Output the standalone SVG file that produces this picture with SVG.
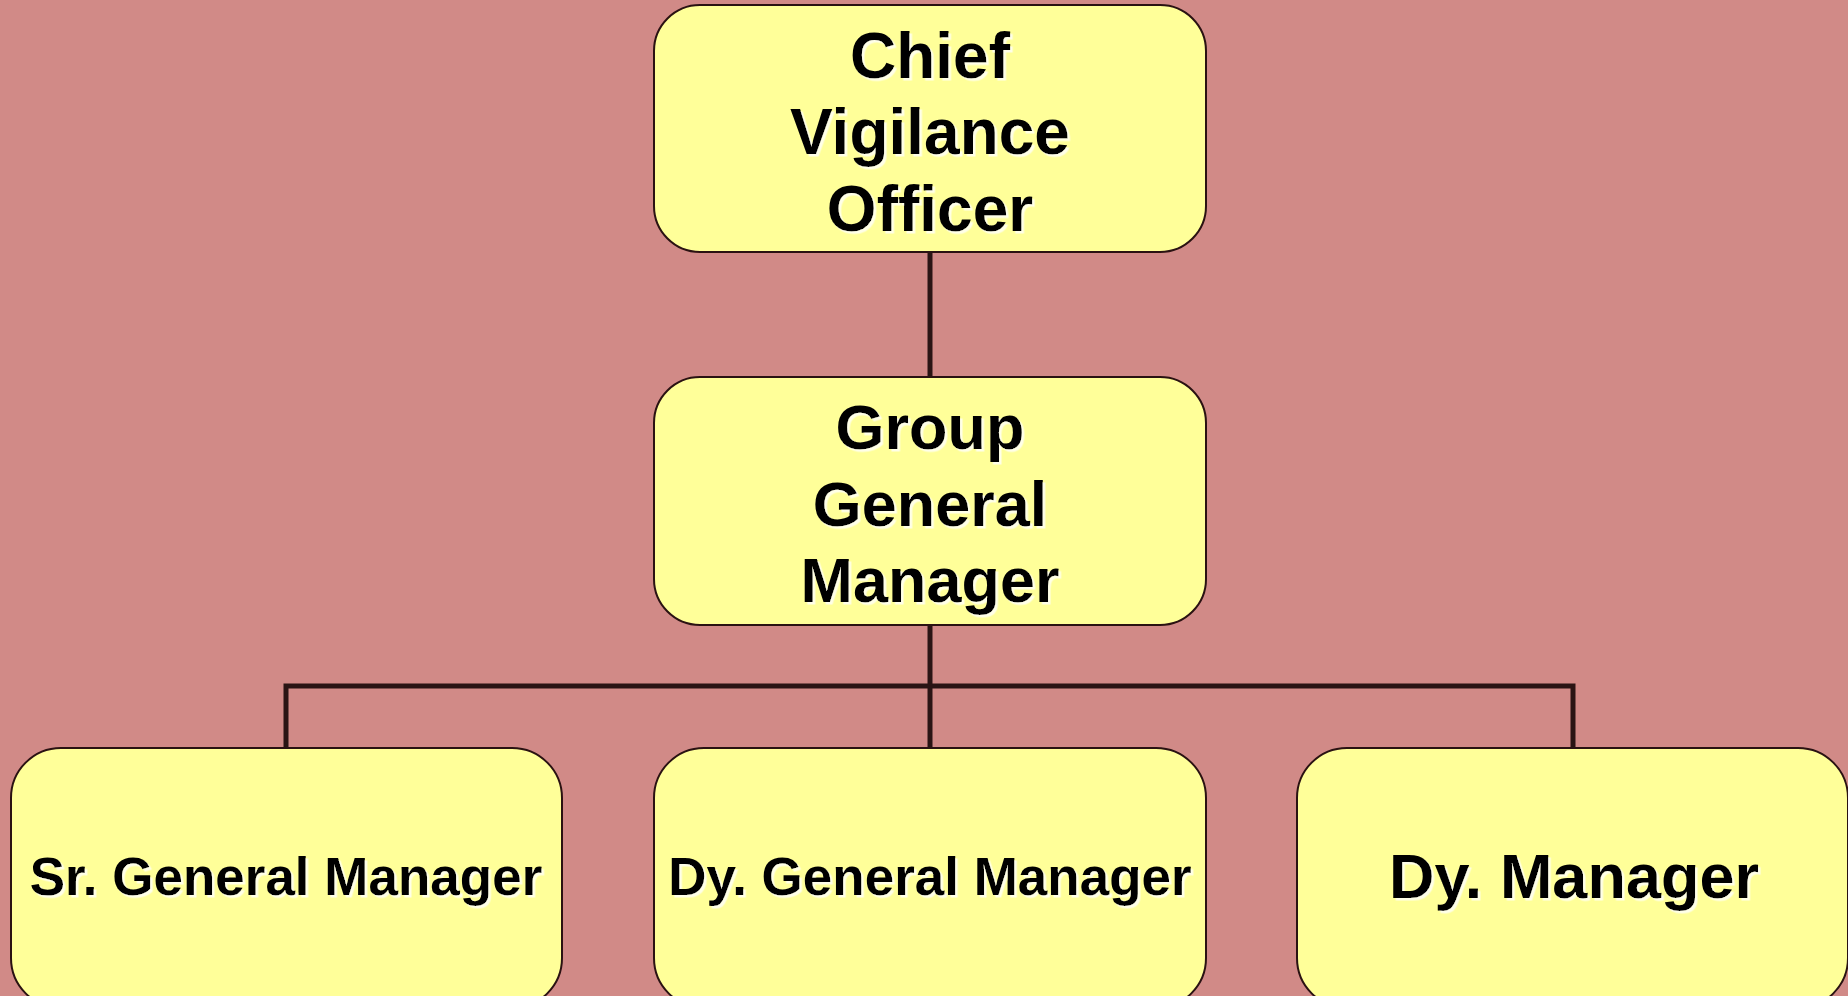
<svg xmlns="http://www.w3.org/2000/svg" width="1848" height="996" viewBox="0 0 1848 996">
<defs>
<filter id="sh" x="-5%" y="-5%" width="110%" height="120%">
<feDropShadow dx="2.5" dy="2.5" stdDeviation="0.4" flood-color="#FFFFE8" flood-opacity="1"/>
</filter>
<style>
.box{fill:#FFFF99;stroke:#2A1212;stroke-width:2}
.t{font-family:"Liberation Sans",Arial,sans-serif;font-weight:bold;fill:#000;text-anchor:middle;filter:url(#sh)}
.c{stroke:#2A1414;stroke-width:5;fill:none}
</style>
</defs>
<rect width="1848" height="996" fill="#D18A87"/>
<g id="connectors">
<line class="c" x1="930" y1="252" x2="930" y2="377"/>
<line class="c" x1="930" y1="625" x2="930" y2="748"/>
<polyline class="c" points="286,748 286,686 1573,686 1573,748"/>
</g>
<g id="cvo">
<rect class="box" x="654" y="5" width="552" height="247" rx="46" ry="46"/>
<text class="t" font-size="64"><tspan x="930" y="78">Chief</tspan><tspan x="930" y="154">Vigilance</tspan><tspan x="930" y="231">Officer</tspan></text>
</g>
<g id="ggm">
<rect class="box" x="654" y="377" width="552" height="248" rx="46" ry="46"/>
<text class="t" font-size="63"><tspan x="930" y="449">Group</tspan><tspan x="930" y="526">General</tspan><tspan x="930" y="602">Manager</tspan></text>
</g>
<g id="sgm">
<rect class="box" x="11" y="748" width="551" height="260" rx="50" ry="50"/>
<text class="t" font-size="53" x="286" y="895">Sr. General Manager</text>
</g>
<g id="dgm">
<rect class="box" x="654" y="748" width="552" height="260" rx="50" ry="50"/>
<text class="t" font-size="53" x="930" y="895">Dy. General Manager</text>
</g>
<g id="dm">
<rect class="box" x="1297" y="748" width="551" height="260" rx="50" ry="50"/>
<text class="t" font-size="63" x="1574" y="898">Dy. Manager</text>
</g>
</svg>
